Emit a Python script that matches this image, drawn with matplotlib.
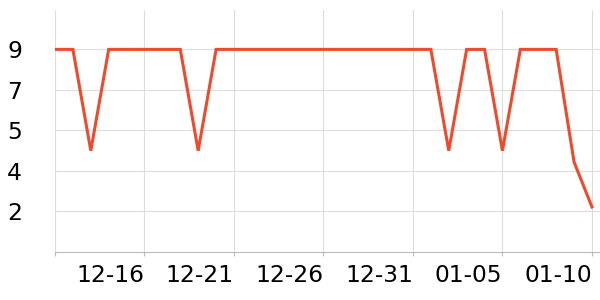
import numpy as np
import pandas as pd
import matplotlib
matplotlib.use("Agg")
import matplotlib.pyplot as plt
import matplotlib.dates as mdates

# daily values, 12-11 .. 01-10
dates = pd.date_range("2023-12-11", "2024-01-10", freq="D")
values = [9, 9, 4.5, 9, 9, 9, 9, 9, 4.5, 9,
          9, 9, 9, 9, 9, 9, 9, 9, 9, 9,
          9, 9, 4.5, 9, 9, 4.5, 9, 9, 9, 4, 2]

x_ticks = pd.date_range("2023-12-11", "2024-01-10", freq="5D")
x_labels = ["", "12-16", "12-21", "12-26", "12-31", "01-05", "01-10"]
y_ticks = [1.8, 3.6, 5.4, 7.2, 9.0]
y_labels = ["2", "4", "5", "7", "9"]

fig = plt.figure(figsize=(6, 3), dpi=100)
ax = fig.add_axes([55 / 600, 48 / 300, 545 / 600, 242 / 300])

ax.plot(dates, values, color="#ee4a2c", linewidth=2.2, solid_joinstyle="miter")

ax.set_xlim(dates[0], dates[0] + pd.Timedelta(days=30.45))
ax.set_ylim(0, 10.75)

ax.set_xticks(x_ticks)
ax.set_xticklabels(x_labels, fontsize=16.8, ha="right")
ax.set_yticks(y_ticks)
ax.set_yticklabels(y_labels, fontsize=16.8)

ax.grid(True, color="#dddddd", linewidth=0.8)
ax.set_axisbelow(True)
for s in ["top", "right", "left"]:
    ax.spines[s].set_visible(False)
ax.spines["bottom"].set_color("#bbbbbb")
ax.tick_params(axis="x", length=3, color="#bbbbbb", pad=6)
ax.tick_params(axis="y", length=0, pad=34.5)
for lbl in ax.get_yticklabels():
    lbl.set_horizontalalignment("left")

fig.savefig("out.png")
